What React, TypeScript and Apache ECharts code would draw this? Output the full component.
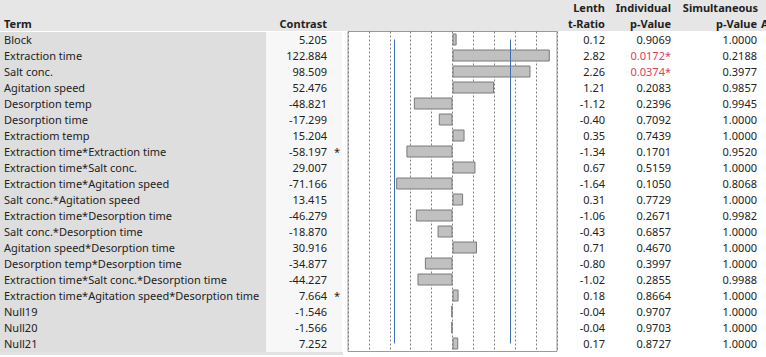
import React, { useEffect, useRef } from "react";
import * as echarts from "echarts";

const terms = [
  "Block",
  "Extraction time",
  "Salt conc.",
  "Agitation speed",
  "Desorption temp",
  "Desorption time",
  "Extractiom temp",
  "Extraction time*Extraction time",
  "Extraction time*Salt conc.",
  "Extraction time*Agitation speed",
  "Salt conc.*Agitation speed",
  "Extraction time*Desorption time",
  "Salt conc.*Desorption time",
  "Agitation speed*Desorption time",
  "Desorption temp*Desorption time",
  "Extraction time*Salt conc.*Desorption time",
  "Extraction time*Agitation speed*Desorption time",
  "Null19",
  "Null20",
  "Null21",
];
const contrasts = [
  5.205, 122.884, 98.509, 52.476, -48.821, -17.299, 15.204, -58.197, 29.007, -71.166,
  13.415, -46.279, -18.87, 30.916, -34.877, -44.227, 7.664, -1.546, -1.566, 7.252,
];
const contrastFlags = ["", "", "", "", "", "", "", "*", "", "", "", "", "", "", "", "", "*", "", "", ""];
const tRatios = [
  0.12, 2.82, 2.26, 1.21, -1.12, -0.4, 0.35, -1.34, 0.67, -1.64, 0.31, -1.06, -0.43, 0.71,
  -0.8, -1.02, 0.18, -0.04, -0.04, 0.17,
];
const individualP = [
  0.9069, 0.0172, 0.0374, 0.2083, 0.2396, 0.7092, 0.7439, 0.1701, 0.5159, 0.105, 0.7729,
  0.2671, 0.6857, 0.467, 0.3997, 0.2855, 0.8664, 0.9707, 0.9703, 0.8727,
];
const simultaneousP = [
  1.0, 0.2188, 0.3977, 0.9857, 0.9945, 1.0, 1.0, 0.952, 1.0, 0.8068, 1.0, 0.9982, 1.0, 1.0,
  1.0, 0.9988, 1.0, 1.0, 1.0, 1.0,
];
const marginOfError = 73.1;
const axisLimit = 132;
const axisStep = 26.4;

const FONT = "Noto Sans";
const FS = 11;
const TXT = "#222222";

export default function App() {
  const ref = useRef<HTMLDivElement>(null);
  useEffect(() => {
    if (!ref.current) return;
    const chart = echarts.init(ref.current, null, { renderer: "svg" });
    const gridLeft = 348;
    const gridW = 209;
    const gridRight = gridLeft + gridW;

    const baseY = {
      type: "category" as const,
      data: terms,
      inverse: true,
      gridIndex: 0,
      axisLine: { show: false },
      axisTick: { show: false },
      splitLine: { show: false },
    };
    const lbl = (extra: any) => ({
      show: true,
      fontFamily: FONT,
      fontSize: FS,
      color: TXT,
      ...extra,
    });
    const head = (text: string, x: number, y: number, align: string) => ({
      type: "text",
      x,
      y,
      style: { text, font: `bold ${FS}px "${FONT}"`, fill: TXT, textAlign: align, textVerticalAlign: "middle" },
    });

    const option: any = {
      animation: false,
      backgroundColor: "#ffffff",
      graphic: [
        { type: "rect", shape: { x: 0, y: 0, width: 766, height: 31 }, style: { fill: "#e6e6e6" }, z: -10 },
        { type: "rect", shape: { x: 0, y: 32, width: 266, height: 320 }, style: { fill: "#dedede" }, z: -10 },
        { type: "rect", shape: { x: 266, y: 32, width: 76, height: 320 }, style: { fill: "#f7f7f7" }, z: -10 },
        { type: "rect", shape: { x: 0, y: 352, width: 343, height: 3 }, style: { fill: "#e2e2e2" }, z: -10 },
        head("Term", 4, 23, "left"),
        head("Contrast", 327, 23, "right"),
        head("Lenth", 605, 7, "right"),
        head("t-Ratio", 605, 23, "right"),
        head("Individual", 671, 7, "right"),
        head("p-Value", 671, 23, "right"),
        head("Simultaneous", 758, 7, "right"),
        head("p-Value", 757, 23, "right"),
        head("A", 761, 23, "left"),
      ],
      grid: {
        left: gridLeft,
        top: 31.5,
        width: gridW,
        height: 320,
        show: true,
        backgroundColor: "#ffffff",
        borderColor: "#9a9a9a",
        borderWidth: 1,
      },
      xAxis: {
        type: "value",
        min: -axisLimit,
        max: axisLimit,
        interval: axisStep,
        axisLabel: { show: false },
        axisLine: { show: false },
        axisTick: { show: false },
        splitLine: { show: true, lineStyle: { color: "#808080", type: [2, 2], width: 1 } },
      },
      yAxis: [
        { ...baseY, position: "left", axisLabel: lbl({ align: "left", margin: gridLeft - 4 }) },
        {
          ...baseY,
          position: "left",
          axisLabel: lbl({ align: "right", margin: gridLeft - 327, formatter: (_v: string, i: number) => contrasts[i].toFixed(3) }),
        },
        {
          ...baseY,
          position: "left",
          axisLabel: lbl({ align: "left", margin: gridLeft - 334, formatter: (_v: string, i: number) => contrastFlags[i] }),
        },
        {
          ...baseY,
          position: "right",
          axisLabel: lbl({ align: "right", margin: 605 - gridRight, formatter: (_v: string, i: number) => tRatios[i].toFixed(2) }),
        },
        {
          ...baseY,
          position: "right",
          axisLabel: lbl({
            align: "right",
            margin: 671 - gridRight,
            formatter: (_v: string, i: number) =>
              individualP[i] < 0.05 ? `{r|${individualP[i].toFixed(4)}*}` : individualP[i].toFixed(4),
            rich: { r: { color: "#d6435e", fontFamily: FONT, fontSize: FS } },
          }),
        },
        {
          ...baseY,
          position: "right",
          axisLabel: lbl({ align: "right", margin: 757 - gridRight, formatter: (_v: string, i: number) => simultaneousP[i].toFixed(4) }),
        },
      ],
      series: [
        {
          type: "bar",
          yAxisIndex: 0,
          data: contrasts,
          barWidth: 12,
          itemStyle: { color: "#c0c0c0", borderColor: "#7a7a7a", borderWidth: 1 },
          markLine: {
            silent: true,
            symbol: "none",
            label: { show: false },
            lineStyle: { color: "#3d6db5", width: 1, type: "solid" },
            data: [
              [{ coord: [-marginOfError, terms[0]] }, { coord: [-marginOfError, terms[terms.length - 1]] }],
              [{ coord: [marginOfError, terms[0]] }, { coord: [marginOfError, terms[terms.length - 1]] }],
            ],
          },
        },
      ],
    };
    chart.setOption(option);
    return () => chart.dispose();
  }, []);
  return <div ref={ref} style={{ position: "fixed", left: 0, top: 0, width: 766, height: 357 }} />;
}
